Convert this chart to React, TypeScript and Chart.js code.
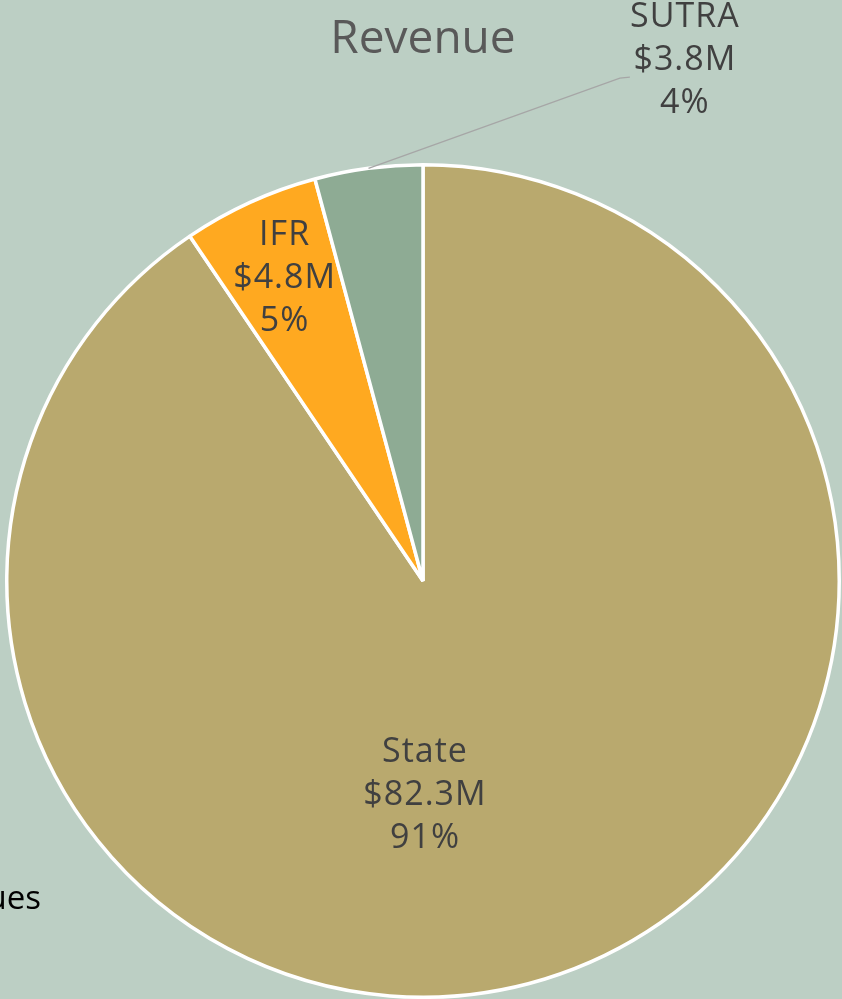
import React, { useEffect, useRef } from "react";
import { Chart, registerables } from "chart.js";

Chart.register(...registerables);

const categories = ["State", "IFR", "SUTRA"];
const amounts = [82.3, 4.8, 3.8]; // $ millions
const amountLabels = ["$82.3M", "$4.8M", "$3.8M"];
const percentLabels = ["91%", "5%", "4%"];
const sliceColors = ["#B9A96E", "#FFA920", "#8EAB94"];
const chartTitle = "Revenue";
const sideText = "Revenues";

const BG = "#BCCFC4";
const FONT = "'Open Sans', 'DejaVu Sans', sans-serif";

const labelPlugin = {
  id: "pieLabels",
  beforeDraw(chart: any) {
    const { ctx, width, height } = chart;
    ctx.save();
    ctx.fillStyle = BG;
    ctx.fillRect(0, 0, width, height);
    ctx.restore();
  },
  afterDraw(chart: any) {
    const { ctx } = chart;
    const meta = chart.getDatasetMeta(0);
    const arcs = meta.data;
    if (!arcs.length) return;
    const cx = arcs[0].x;
    const cy = arcs[0].y;
    const r = arcs[0].outerRadius;

    ctx.save();
    // title
    ctx.font = `46px ${FONT}`;
    ctx.fillStyle = "#595959";
    ctx.textAlign = "center";
    ctx.textBaseline = "middle";
    ctx.fillText(chartTitle, cx, 40);

    // side text (clipped at left edge)
    ctx.font = `33px ${FONT}`;
    ctx.fillStyle = "#000000";
    ctx.textAlign = "right";
    ctx.textBaseline = "alphabetic";
    ctx.fillText(sideText, 41, 909);

    const lineGap = 43;
    ctx.font = `34px ${FONT}`;
    try { (ctx as any).letterSpacing = "1px"; } catch (e) {}
    ctx.fillStyle = "#404040";
    ctx.textAlign = "center";
    ctx.textBaseline = "middle";

    arcs.forEach((arc: any, i: number) => {
      const mid = (arc.startAngle + arc.endAngle) / 2;
      const lines = [categories[i], amountLabels[i], percentLabels[i]];
      let lx: number, ly: number;
      if (i === 0) {
        lx = cx + 2;
        ly = cy + r * 0.515;
      } else if (i === 1) {
        lx = cx + Math.cos(mid) * r * 0.8;
        ly = cy + Math.sin(mid) * r * 0.8;
      } else {
        // outside label with leader line
        const ex = cx + Math.cos(mid) * r;
        const ey = cy + Math.sin(mid) * r;
        const tx = cx + r * 0.497;
        const ty = cy - r * 1.208;
        ctx.save();
        ctx.strokeStyle = "#A6A6A6";
        ctx.lineWidth = 1.3;
        ctx.beginPath();
        ctx.moveTo(ex, ey);
        ctx.lineTo(tx - 10, ty);
        ctx.lineTo(tx, ty - 1);
        ctx.stroke();
        ctx.restore();
        lx = tx + 55;
        ly = ty - 18;
      }
      lines.forEach((t, k) => {
        ctx.fillText(t, lx, ly + (k - 1) * lineGap);
      });
    });
    ctx.restore();
  },
};

export default function App() {
  const canvasRef = useRef<HTMLCanvasElement | null>(null);

  useEffect(() => {
    document.body.style.margin = "0";
    document.body.style.background = BG;
    const canvas = canvasRef.current;
    if (!canvas) return;
    const chart = new Chart(canvas, {
      type: "pie",
      data: {
        labels: categories,
        datasets: [
          {
            data: amounts,
            backgroundColor: sliceColors,
            borderColor: "#FFFFFF",
            borderWidth: 3.5,
          },
        ],
      },
      options: {
        animation: false,
        responsive: false,
        maintainAspectRatio: false,
        layout: { padding: { left: 5, right: 1, top: 163, bottom: 0 } },
        plugins: {
          legend: { display: false },
          title: { display: false },
          tooltip: { enabled: false },
        },
      },
      plugins: [labelPlugin],
    });
    return () => chart.destroy();
  }, []);

  return (
    <div style={{ width: 842, height: 999, background: BG }}>
      <canvas ref={canvasRef} width={842} height={999} style={{ display: "block" }} />
    </div>
  );
}
